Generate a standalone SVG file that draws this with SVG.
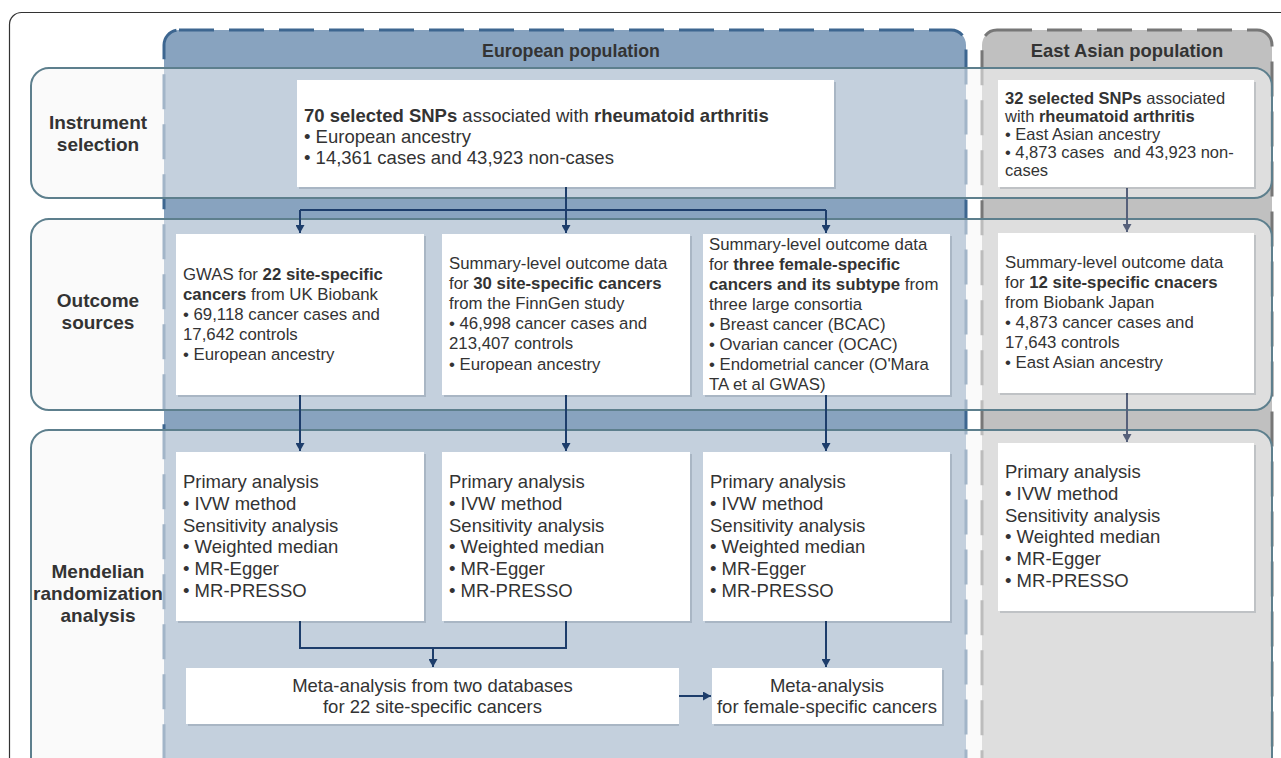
<svg xmlns="http://www.w3.org/2000/svg" width="1281" height="758" viewBox="0 0 1281 758">
<style>
text{font-family:"Liberation Sans",Arial,sans-serif;fill:#333}
.b{font-weight:bold}
.lbl{font-size:19px;font-weight:bold;text-anchor:middle}
.hdr{font-size:17.8px;font-weight:bold;text-anchor:middle}
.box{fill:#fff}
.sh{fill:#1f2f45;opacity:.16}
.band{fill:#f5f5f5;fill-opacity:.55;stroke:#5d7f8d;stroke-width:2}
.conn{stroke:#1d3d6b;stroke-width:2;fill:none}
.conn2{stroke:#56607a;stroke-width:2;fill:none}
.f18{font-size:18.5px}
.f17{font-size:16.8px}
.f16{font-size:16.5px}
.mid{text-anchor:middle}
</style>
<defs>
<marker id="ah" viewBox="0 0 8 9" refX="8" refY="4.5" markerWidth="8" markerHeight="9" markerUnits="userSpaceOnUse" orient="auto"><path d="M0,0 L8,4.5 L0,9 z" fill="#1d3d6b"/></marker>
<marker id="ah2" viewBox="0 0 8 9" refX="8" refY="4.5" markerWidth="8" markerHeight="9" markerUnits="userSpaceOnUse" orient="auto"><path d="M0,0 L8,4.5 L0,9 z" fill="#56607a"/></marker>
</defs>
<rect x="0" y="0" width="1281" height="758" fill="#fff"/>
<rect id="frame" x="9.5" y="12.5" width="1320" height="800" rx="12" fill="none" stroke="#333" stroke-width="1.2"/>
<g id="european-panel">
<rect x="164" y="30" width="802" height="780" rx="15" fill="#88a3bf" stroke="#3d6690" stroke-width="3" stroke-dasharray="35 15"/>
<text class="hdr" x="571" y="57">European population</text>
</g>
<g id="eastasian-panel">
<rect x="982" y="30" width="290" height="780" rx="15" fill="#c0c0c0" stroke="#777" stroke-width="3" stroke-dasharray="35 15"/>
<text class="hdr" x="1127" y="57" style="font-size:18.4px">East Asian population</text>
</g>
<g id="row-instrument">
<rect class="band" x="31" y="68" width="1241" height="130" rx="18"/>
<text class="lbl" x="98" y="129">Instrument</text>
<text class="lbl" x="98" y="151">selection</text>
</g>
<g id="row-outcome">
<rect class="band" x="31" y="219" width="1241" height="191" rx="18"/>
<text class="lbl" x="98" y="307">Outcome</text>
<text class="lbl" x="98" y="329">sources</text>
</g>
<g id="row-mr">
<rect class="band" x="31" y="430" width="1241" height="400" rx="18"/>
<text class="lbl" x="98" y="578">Mendelian</text>
<text class="lbl" x="98" y="600">randomization</text>
<text class="lbl" x="98" y="622">analysis</text>
</g>
<g id="connectors">
<path class="conn" d="M566,187 V210"/>
<path class="conn" d="M300,210 H826" />
<path class="conn" d="M300,210 V233" marker-end="url(#ah)"/>
<path class="conn" d="M566,210 V233" marker-end="url(#ah)"/>
<path class="conn" d="M826,210 V233" marker-end="url(#ah)"/>
<path class="conn2" d="M1127,188 V232" marker-end="url(#ah2)"/>
<path class="conn" d="M300,395 V451" marker-end="url(#ah)"/>
<path class="conn" d="M566,395 V451" marker-end="url(#ah)"/>
<path class="conn" d="M826,395 V451" marker-end="url(#ah)"/>
<path class="conn2" d="M1127,393 V442" marker-end="url(#ah2)"/>
<path class="conn" d="M300,621 V648 H566 V621"/>
<path class="conn" d="M433,648 V667" marker-end="url(#ah)"/>
<path class="conn" d="M826,621 V667" marker-end="url(#ah)"/>
<path class="conn" d="M679,696 H711" marker-end="url(#ah)"/>
</g>
<g id="instrument-eu">
<rect class="sh" x="299" y="82" width="537" height="107"/>
<rect class="box" x="297" y="80" width="537" height="107"/>
<text class="f18" x="304" y="121.5"><tspan class="b">70 selected SNPs</tspan> associated with <tspan class="b">rheumatoid arthritis</tspan></text>
<text class="f18" x="304" y="142.5">• European ancestry</text>
<text class="f18" x="304" y="163.5">• 14,361 cases and 43,923 non-cases</text>
</g>
<g id="instrument-ea">
<rect class="sh" x="1000" y="82" width="256" height="107"/>
<rect class="box" x="998" y="80" width="256" height="107"/>
<text class="f16" x="1005" y="103.5"><tspan class="b">32 selected SNPs</tspan> associated</text>
<text class="f16" x="1005" y="121.5">with <tspan class="b">rheumatoid arthritis</tspan></text>
<text class="f16" x="1005" y="139.5">• East Asian ancestry</text>
<text class="f16" x="1005" y="157.5" style="white-space:pre">• 4,873 cases  and 43,923 non-</text>
<text class="f16" x="1005" y="175.5">cases</text>
</g>
<g id="outcome-ukb">
<rect class="sh" x="178" y="236" width="248" height="161"/>
<rect class="box" x="176" y="234" width="248" height="161"/>
<text class="f17" x="183" y="280">GWAS for <tspan class="b">22 site-specific</tspan></text>
<text class="f17" x="183" y="300"><tspan class="b">cancers</tspan> from UK Biobank</text>
<text class="f17" x="183" y="320">• 69,118 cancer cases and</text>
<text class="f17" x="183" y="340">17,642 controls</text>
<text class="f17" x="183" y="360">• European ancestry</text>
</g>
<g id="outcome-finngen">
<rect class="sh" x="444" y="236" width="248" height="161"/>
<rect class="box" x="442" y="234" width="248" height="161"/>
<text class="f17" x="449" y="268.5">Summary-level outcome data</text>
<text class="f17" x="449" y="288.7">for <tspan class="b">30 site-specific cancers</tspan></text>
<text class="f17" x="449" y="308.9">from the FinnGen study</text>
<text class="f17" x="449" y="329.1">• 46,998 cancer cases and</text>
<text class="f17" x="449" y="349.3">213,407 controls</text>
<text class="f17" x="449" y="369.5">• European ancestry</text>
</g>
<g id="outcome-consortia">
<rect class="sh" x="705" y="236" width="247" height="161"/>
<rect class="box" x="703" y="234" width="247" height="161"/>
<text class="f17" x="709" y="249.5">Summary-level outcome data</text>
<text class="f17" x="709" y="269.6">for <tspan class="b">three female-specific</tspan></text>
<text class="f17" x="709" y="289.7"><tspan class="b">cancers and its subtype</tspan> from</text>
<text class="f17" x="709" y="309.8">three large consortia</text>
<text class="f17" x="709" y="329.9">• Breast cancer (BCAC)</text>
<text class="f17" x="709" y="350">• Ovarian cancer (OCAC)</text>
<text class="f17" x="709" y="370.1">• Endometrial cancer (O'Mara</text>
<text class="f17" x="709" y="390.2">TA et al GWAS)</text>
</g>
<g id="outcome-bbj">
<rect class="sh" x="1000" y="235" width="256" height="160"/>
<rect class="box" x="998" y="233" width="256" height="160"/>
<text class="f17" x="1005" y="268.3">Summary-level outcome data</text>
<text class="f17" x="1005" y="288.3">for <tspan class="b">12 site-specific cnacers</tspan></text>
<text class="f17" x="1005" y="308.3">from Biobank Japan</text>
<text class="f17" x="1005" y="328.3">• 4,873 cancer cases and</text>
<text class="f17" x="1005" y="348.3">17,643 controls</text>
<text class="f17" x="1005" y="368.3">• East Asian ancestry</text>
</g>
<g id="mr-ukb">
<rect class="sh" x="178" y="454" width="248" height="169"/>
<rect class="box" x="176" y="452" width="248" height="169"/>
<text class="f18" x="183" y="488.3">Primary analysis</text>
<text class="f18" x="183" y="510">• IVW method</text>
<text class="f18" x="183" y="531.7">Sensitivity analysis</text>
<text class="f18" x="183" y="553.4">• Weighted median</text>
<text class="f18" x="183" y="575.1">• MR-Egger</text>
<text class="f18" x="183" y="596.8">• MR-PRESSO</text>
</g>
<g id="mr-finngen">
<rect class="sh" x="444" y="454" width="248" height="169"/>
<rect class="box" x="442" y="452" width="248" height="169"/>
<text class="f18" x="449" y="488.3">Primary analysis</text>
<text class="f18" x="449" y="510">• IVW method</text>
<text class="f18" x="449" y="531.7">Sensitivity analysis</text>
<text class="f18" x="449" y="553.4">• Weighted median</text>
<text class="f18" x="449" y="575.1">• MR-Egger</text>
<text class="f18" x="449" y="596.8">• MR-PRESSO</text>
</g>
<g id="mr-consortia">
<rect class="sh" x="705" y="454" width="247" height="169"/>
<rect class="box" x="703" y="452" width="247" height="169"/>
<text class="f18" x="710" y="488.3">Primary analysis</text>
<text class="f18" x="710" y="510">• IVW method</text>
<text class="f18" x="710" y="531.7">Sensitivity analysis</text>
<text class="f18" x="710" y="553.4">• Weighted median</text>
<text class="f18" x="710" y="575.1">• MR-Egger</text>
<text class="f18" x="710" y="596.8">• MR-PRESSO</text>
</g>
<g id="mr-bbj">
<rect class="sh" x="1000" y="445" width="256" height="168"/>
<rect class="box" x="998" y="443" width="256" height="168"/>
<text class="f18" x="1005" y="478.3">Primary analysis</text>
<text class="f18" x="1005" y="500">• IVW method</text>
<text class="f18" x="1005" y="521.7">Sensitivity analysis</text>
<text class="f18" x="1005" y="543.4">• Weighted median</text>
<text class="f18" x="1005" y="565.1">• MR-Egger</text>
<text class="f18" x="1005" y="586.8">• MR-PRESSO</text>
</g>
<g id="meta-two-databases">
<rect class="sh" x="188" y="670" width="491" height="56"/>
<rect class="box" x="186" y="668" width="493" height="56"/>
<text class="f18 mid" x="432.5" y="691.7">Meta-analysis from two databases</text>
<text class="f18 mid" x="432.5" y="713">for 22 site-specific cancers</text>
</g>
<g id="meta-female">
<rect class="sh" x="714" y="670" width="230" height="56"/>
<rect class="box" x="712" y="668" width="230" height="56"/>
<text class="f18 mid" x="827" y="691.7">Meta-analysis</text>
<text class="f18 mid" x="827" y="713">for female-specific cancers</text>
</g>
</svg>
